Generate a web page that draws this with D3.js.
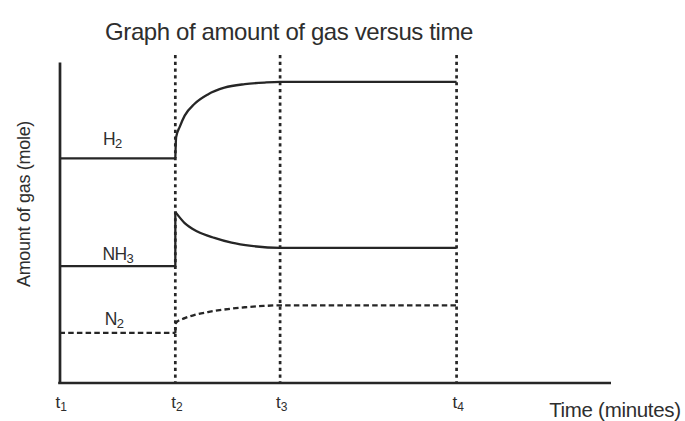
<!DOCTYPE html>
<html><head><meta charset="utf-8">
<script src="https://cdn.jsdelivr.net/npm/d3@7/dist/d3.min.js"></script>
<style>
html,body{margin:0;padding:0;background:#fff;}
svg text{font-family:"Liberation Sans",Arial,sans-serif;fill:#2e2e2e;}
</style></head>
<body>
<svg id="chart" width="685" height="421"></svg>
<script>
// ---- data ----
const title = "Graph of amount of gas versus time";
const xTitle = "Time (minutes)";
const yTitle = "Amount of gas (mole)";
const tickTimes = [0, 21, 40, 72];
const tickSubs = ["1", "2", "3", "4"];
// H2: before change (flat) and after (curve to equilibrium)
const h2Before = [[0, 70], [21, 70]];
const h2After = [[21, 70], [21.15, 76.6], [21.8, 79.8], [22.7, 83.3], [24.5, 87.0], [26.9, 89.9], [29.9, 92.0], [33.6, 93.1], [37.2, 93.6], [40, 93.8], [72, 93.8]];
const nh3Before = [[0, 36.4], [21, 36.4], [21, 53.3]];
const nh3After = [[21, 53.3], [22.7, 49.8], [25, 47.2], [28.1, 45.2], [31.2, 43.7], [34.8, 42.7], [40, 42.1], [72, 42.1]];
const n2Before = [[0, 15.6], [21, 15.6]];
const n2After = [[21, 15.6], [21.1, 18.7], [22.7, 20.2], [24.5, 21.2], [26.9, 22.1], [29.5, 22.8], [33.6, 23.6], [37, 24.0], [40, 24.2], [72, 24.2]];
const labels = [
  {base: "H", sub: "2", t: 7.9, v: 74.1},
  {base: "NH", sub: "3", t: 7.8, v: 38.2},
  {base: "N", sub: "2", t: 8.2, v: 18.2}
];

// ---- layout ----
const svg = d3.select("#chart");
const x = d3.scaleLinear().domain([0, 100]).range([59.5, 611]);
const y = d3.scaleLinear().domain([0, 100]).range([383, 62]);
const ink = "#262626";

// dotted vertical guide lines
svg.append("g").selectAll("line").data(tickTimes.slice(1)).join("line")
  .attr("x1", d => x(d)).attr("x2", d => x(d))
  .attr("y1", y(102.2)).attr("y2", y(0))
  .attr("stroke", ink).attr("stroke-width", 2.7)
  .attr("stroke-dasharray", "3.2,3.6");

// axes
const xAxis = d3.axisBottom(x).tickValues([]).tickSizeOuter(0);
const yAxis = d3.axisLeft(y).tickValues([]).tickSizeOuter(0);
const gx = svg.append("g").attr("transform", `translate(0,${y(0)})`).call(xAxis);
const gy = svg.append("g").attr("transform", `translate(${x(0)},0)`).call(yAxis);
[gx, gy].forEach(g => g.select(".domain").attr("stroke", ink).attr("stroke-width", 2.7));
gx.select(".domain").attr("d", `M${x(0)-1.3},0H${x(100)}`);

// series
const lin = d3.line().x(d => x(d[0])).y(d => y(d[1])).curve(d3.curveLinear);
const smooth = d3.line().x(d => x(d[0])).y(d => y(d[1])).curve(d3.curveMonotoneX);
function draw(before, after, dash) {
  const g = svg.append("g").attr("fill", "none").attr("stroke", ink).attr("stroke-width", 2.3);
  g.append("path").attr("d", lin(before)).attr("stroke-dasharray", dash || null);
  g.append("path").attr("d", smooth(after)).attr("stroke-dasharray", dash || null);
}
draw(h2Before, h2After);
draw(nh3Before, nh3After);
draw(n2Before, n2After, "5.5,3.2");

// series labels
labels.forEach(l => {
  const t = svg.append("text").attr("x", x(l.t)).attr("y", y(l.v))
    .attr("font-size", 17.5).attr("letter-spacing", -0.7);
  t.append("tspan").text(l.base);
  t.append("tspan").attr("font-size", 13).attr("dy", 3).text(l.sub);
});

// tick labels
tickTimes.forEach((d, i) => {
  const t = svg.append("text").attr("x", x(d) - 4).attr("y", 408).attr("font-size", 17);
  t.append("tspan").text("t");
  t.append("tspan").attr("font-size", 12).attr("dy", 3).text(tickSubs[i]);
});

// titles
svg.append("text").attr("x", 289).attr("y", 40).attr("text-anchor", "middle")
  .attr("font-size", 24).attr("letter-spacing", -0.4).text(title);
svg.append("text").attr("x", 615).attr("y", 417).attr("text-anchor", "middle")
  .attr("font-size", 20.5).attr("letter-spacing", -0.3).text(xTitle);
svg.append("text").attr("transform", "translate(30,204) rotate(-90)").attr("text-anchor", "middle")
  .attr("font-size", 18).attr("letter-spacing", -0.3).text(yTitle);
</script>
</body></html>
